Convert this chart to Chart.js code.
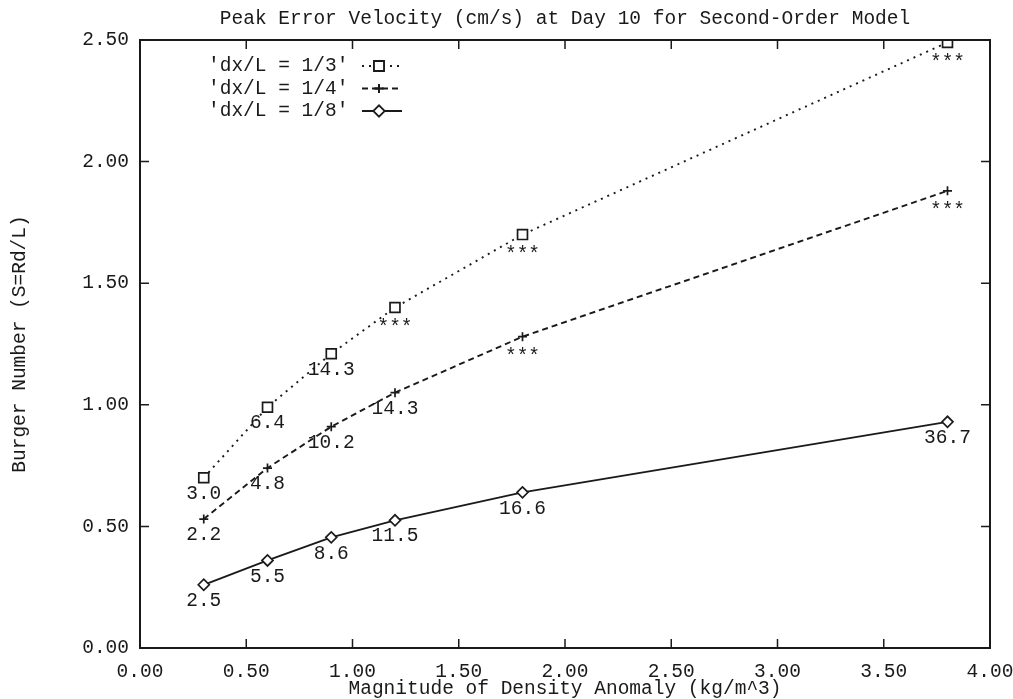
<!DOCTYPE html>
<html>
<head>
  <style>
    html, body {
      margin: 0;
      padding: 0;
      background: #ffffff;
    }

    .chart-container {
      position: relative;
      width: 1013px;
      height: 699px;
    }
  </style>
  <script src="https://cdn.jsdelivr.net/npm/chart.js"></script>
</head>
<body>
  <div class="chart-container">
    <canvas id="burgerChart"></canvas>
  </div>

  <script>
    // density anomaly values shared by all three runs
    const anomaly = [0.3, 0.6, 0.9, 1.2, 1.8, 3.8];

    // Burger number for each grid spacing
    const burgerThird = [0.70, 0.99, 1.21, 1.40, 1.70, 2.49];
    const burgerQuarter = [0.53, 0.74, 0.91, 1.05, 1.28, 1.88];
    const burgerEighth = [0.26, 0.36, 0.455, 0.525, 0.64, 0.93];

    // peak error velocity written under each point
    const peakThird = ['3.0', '6.4', '14.3', '***', '***', '***'];
    const peakQuarter = ['2.2', '4.8', '10.2', '14.3', '***', '***'];
    const peakEighth = ['2.5', '5.5', '8.6', '11.5', '16.6', '36.7'];

    const seriesNames = ["'dx/L = 1/3'", "'dx/L = 1/4'", "'dx/L = 1/8'"];

    const xTicks = [0, 0.5, 1, 1.5, 2, 2.5, 3, 3.5, 4];
    const yTicks = [0, 0.5, 1, 1.5, 2, 2.5];

    const chartTitle = 'Peak Error Velocity (cm/s) at Day 10 for Second-Order Model';

    const FONT = '"Liberation Mono", "DejaVu Sans Mono", monospace';
    const INK = '#1a1a1a';

    function toPoints(ys) {
      return anomaly.map((x, i) => ({ x: x, y: ys[i] }));
    }

    // frame with inward ticks on all four sides, point labels, title and the key
    const gnuplotLook = {
      id: 'gnuplotLook',
      afterDatasetsDraw(chart) {
        const { ctx, chartArea: a, scales } = chart;
        const x = scales.x, y = scales.y;
        ctx.save();

        ctx.fillStyle = INK;
        ctx.font = '19.5px ' + FONT;
        ctx.textAlign = 'center';
        ctx.textBaseline = 'middle';

        // title centred over the plot box
        ctx.fillText(chartTitle, (a.left + a.right) / 2, 19);

        // point labels
        chart.data.datasets.forEach((ds, di) => {
          const meta = chart.getDatasetMeta(di);
          meta.data.forEach((pt, i) => {
            const txt = ds.peakLabels[i];
            const dy = txt === '***' ? 20 : 16;
            ctx.fillText(txt, pt.x, pt.y + dy);
          });
        });

        // frame
        ctx.strokeStyle = INK;
        ctx.lineWidth = 2;
        ctx.setLineDash([]);
        ctx.strokeRect(a.left, a.top, a.right - a.left, a.bottom - a.top);

        ctx.lineWidth = 1.5;
        ctx.beginPath();
        xTicks.forEach(v => {
          const px = x.getPixelForValue(v);
          ctx.moveTo(px, a.bottom); ctx.lineTo(px, a.bottom - 9);
          ctx.moveTo(px, a.top); ctx.lineTo(px, a.top + 9);
        });
        yTicks.forEach(v => {
          const py = y.getPixelForValue(v);
          ctx.moveTo(a.left, py); ctx.lineTo(a.left + 9, py);
          ctx.moveTo(a.right, py); ctx.lineTo(a.right - 9, py);
        });
        ctx.stroke();

        // key, gnuplot style: text then sample
        ctx.textAlign = 'left';
        chart.data.datasets.forEach((ds, di) => {
          const ky = a.top + 26 + di * 22.5;
          ctx.fillStyle = INK;
          ctx.fillText(ds.label, 208, ky);
          ctx.strokeStyle = INK;
          ctx.lineWidth = ds.borderWidth;
          ctx.setLineDash(ds.borderDash || []);
          ctx.beginPath();
          ctx.moveTo(362, ky);
          ctx.lineTo(402, ky);
          ctx.stroke();
          ctx.setLineDash([]);
          Chart.helpers.drawPoint(ctx, {
            pointStyle: ds.pointStyle,
            radius: ds.pointRadius,
            borderWidth: ds.pointBorderWidth,
            rotation: 0
          }, 379, ky);
          if (ds.pointStyle !== 'cross') {
            ctx.fillStyle = '#ffffff';
            ctx.fill();
          }
          ctx.lineWidth = ds.pointBorderWidth;
          ctx.strokeStyle = INK;
          ctx.stroke();
        });

        ctx.restore();
      }
    };

    const commonSeries = {
      showLine: true,
      fill: false,
      tension: 0,
      borderColor: INK,
      borderWidth: 1.9,
      pointBorderColor: INK,
      pointBackgroundColor: '#ffffff',
      pointBorderWidth: 1.7
    };

    const data = {
      datasets: [
        Object.assign({}, commonSeries, {
          label: seriesNames[0],
          data: toPoints(burgerThird),
          peakLabels: peakThird,
          borderDash: [2, 5],
          pointStyle: 'rect',
          pointRadius: 7
        }),
        Object.assign({}, commonSeries, {
          label: seriesNames[1],
          data: toPoints(burgerQuarter),
          peakLabels: peakQuarter,
          borderDash: [6, 4],
          pointStyle: 'cross',
          pointRadius: 4.5
        }),
        Object.assign({}, commonSeries, {
          label: seriesNames[2],
          data: toPoints(burgerEighth),
          peakLabels: peakEighth,
          pointStyle: 'rectRot',
          pointRadius: 5.5
        })
      ]
    };

    const config = {
      type: 'scatter',
      data: data,
      options: {
        responsive: true,
        maintainAspectRatio: false,
        animation: false,
        layout: {
          padding: { left: 0, right: 23, top: 40, bottom: 0 }
        },
        scales: {
          x: {
            type: 'linear',
            min: 0,
            max: 4,
            afterBuildTicks: scale => { scale.ticks = xTicks.map(v => ({ value: v })); },
            afterFit: scale => {
              scale.height = 51;
              scale.paddingLeft = 0;
              scale.paddingRight = 0;
            },
            grid: { display: false, drawTicks: false },
            border: { display: false },
            ticks: {
              padding: 12,
              color: INK,
              font: { family: FONT, size: 19.5 },
              maxRotation: 0,
              callback: v => v.toFixed(2)
            },
            title: {
              display: true,
              text: 'Magnitude of Density Anomaly (kg/m^3)',
              color: INK,
              font: { family: FONT, size: 19.5 },
              padding: { top: 0, bottom: -2 }
            }
          },
          y: {
            type: 'linear',
            min: 0,
            max: 2.5,
            afterBuildTicks: scale => { scale.ticks = yTicks.map(v => ({ value: v })); },
            afterFit: scale => {
              scale.width = 140;
              scale.paddingTop = 0;
              scale.paddingBottom = 0;
            },
            grid: { display: false, drawTicks: false },
            border: { display: false },
            ticks: {
              padding: 11,
              color: INK,
              font: { family: FONT, size: 19.5 },
              callback: v => v.toFixed(2)
            },
            title: {
              display: true,
              text: 'Burger Number (S=Rd/L)',
              color: INK,
              font: { family: FONT, size: 19.5 },
              padding: { top: 8, bottom: 0 }
            }
          }
        },
        plugins: {
          legend: { display: false },
          tooltip: { enabled: false },
          title: { display: false }
        }
      },
      plugins: [gnuplotLook]
    };

    const burgerChart = new Chart(document.getElementById('burgerChart'), config);
  </script>
</body>
</html>
